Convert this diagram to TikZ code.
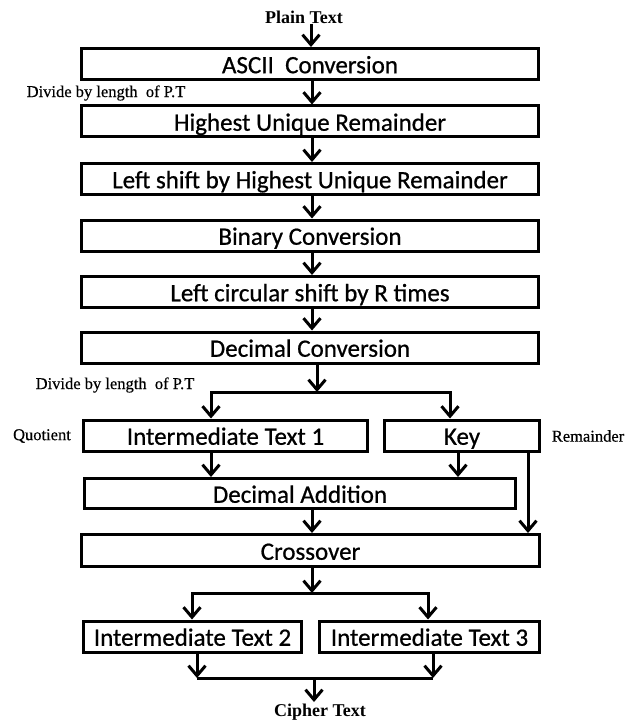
\documentclass[tikz,border=0pt]{standalone}
\usepackage{fontspec}
\setmainfont{Liberation Serif}
\newfontfamily\boxfont[FakeBold=0.7]{Carlito}
\newfontfamily\labelfont[FakeBold=0.4]{Liberation Serif}
\usetikzlibrary{arrows.meta}

\tikzset{
  barb/.tip={Straight Barb[length=10pt,width=17pt,line cap=butt]},
  stage/.style={draw, line width=3pt, rectangle, inner sep=0pt,
    minimum height=31pt, text height=20pt, text depth=1.5pt,
    font=\boxfont\fontsize{25}{27}\selectfont},
  wide/.style={stage, minimum width=457pt},
  link/.style={line width=3pt, line join=miter},
  arr/.style={link, -barb},
  biarr/.style={link, barb-barb},
  endlabel/.style={font=\bfseries\fontsize{18}{20}\selectfont, inner sep=0pt},
  sidelabel/.style={font=\labelfont\fontsize{16.5}{18}\selectfont, inner sep=0pt},
}

\begin{document}
\begin{tikzpicture}[x=1pt, y=-1pt]
\useasboundingbox (0,0) rectangle (638,722);

% end labels
\node[endlabel] (pt) at (304,17) {Plain Text};
\node[endlabel] (ct) at (320,712) {Cipher Text};

% main chain of stages
\node[wide] (ascii)  at (310,64)    {ASCII\ \ Conversion};
\node[wide] (hur)    at (310,121.5) {Highest Unique Remainder};
\node[wide] (lshift) at (310,179)   {Left shift by Highest Unique Remainder};
\node[wide] (bin)    at (310,235.5) {Binary Conversion};
\node[wide] (circ)   at (310,292)   {Left circular shift by R times};
\node[wide] (dec)    at (310,347.5) {Decimal Conversion};

\node[stage, minimum width=284pt] (it1) at (225.5,435.5) {Intermediate Text 1};
\node[stage, minimum width=155pt] (key) at (462,435.5)   {Key};
\node[stage, minimum width=431pt, minimum height=30pt] (add) at (300,493.5) {Decimal Addition};
\node[stage, minimum width=458pt, minimum height=32pt] (cross) at (310.5,550.5) {Crossover};
\node[stage, minimum width=218pt] (it2) at (192.5,636.5) {Intermediate Text 2};
\node[stage, minimum width=220pt] (it3) at (429.5,636.5) {Intermediate Text 3};

% side labels
\node[sidelabel] (div1) at (106,93)  {Divide by length\ \ of P.T};
\node[sidelabel] (div2) at (115,385) {Divide by length\ \ of P.T};
\node[sidelabel] (quo)  at (42,436)  {Quotient};
\node[sidelabel] (rem)  at (588,436) {Remainder};

% column positions of the connectors
\coordinate (xa) at (311,0);
\coordinate (xb) at (312,0);
\coordinate (xc) at (317,0);
\coordinate (s1) at (211,392);
\coordinate (s2) at (450,392);
\coordinate (xk) at (458,0);
\coordinate (xr) at (528,0);
\coordinate (s3) at (192,593);
\coordinate (s4) at (428,593);
\coordinate (j1) at (197,678);
\coordinate (j2) at (433,678);
\coordinate (jm) at (314,678);
\coordinate (ce) at (314,702);

% straight flow
\draw[arr] (pt.south -| xa) -- (ascii.north -| xa);
\draw[arr] (ascii.south -| xb) -- (hur.north -| xb);
\draw[arr] (hur.south -| xb) -- (lshift.north -| xb);
\draw[arr] (lshift.south -| xb) -- (bin.north -| xb);
\draw[arr] (bin.south -| xb) -- (circ.north -| xb);
\draw[arr] (circ.south -| xb) -- (dec.north -| xb);

% split into quotient and remainder
\draw[arr] (dec.south -| xc) -- (s1 -| xc);
\draw[biarr] (it1.north -| s1) -- (s1) -- (s2) -- (key.north -| s2);

\draw[arr] (it1.south -| s1) -- (add.north -| s1);
\draw[arr] (key.south -| xk) -- (add.north -| xk);
\draw[arr] (key.south -| xr) -- (cross.north -| xr);
\draw[arr] (add.south -| xb) -- (cross.north -| xb);

% split after crossover
\draw[arr] (cross.south -| xb) -- (s3 -| xb);
\draw[biarr] (it2.north -| s3) -- (s3) -- (s4) -- (it3.north -| s4);

% join into cipher text
\draw[arr] (it2.south -| j1) -- (j1);
\draw[arr] (it3.south -| j2) -- (j2);
\draw[link] (j1) -- (j2);
\draw[arr] (jm) -- (ce);
\end{tikzpicture}
\end{document}
